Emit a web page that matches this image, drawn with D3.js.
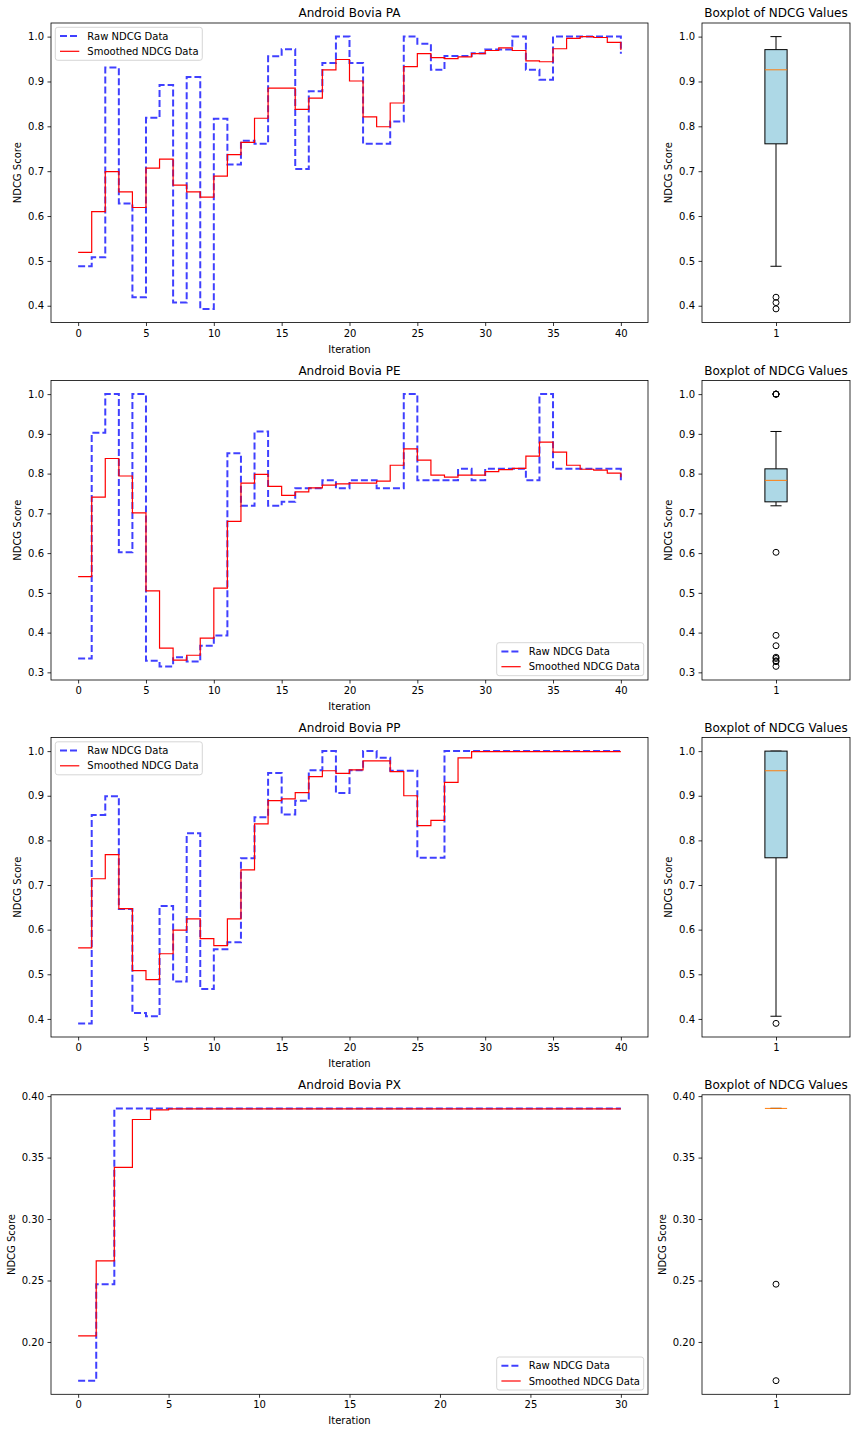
<!DOCTYPE html>
<html>
<head>
<meta charset="utf-8">
<script src="https://cdn.jsdelivr.net/npm/d3@7"></script>
<style>
  body { margin: 0; background: #fff; }
  svg { font-family: "DejaVu Sans", sans-serif; display: block; }
</style>
</head>
<body>
<svg id="chart"></svg>
<script>
"use strict";

/*
*  DATA
*/

var titles = ["Android Bovia PA", "Android Bovia PE", "Android Bovia PP", "Android Bovia PX"];

var rawPA = [0.488, 0.508, 0.931, 0.628, 0.419, 0.819, 0.892, 0.407, 0.910, 0.393,
  0.817, 0.715, 0.768, 0.761, 0.956, 0.972, 0.705, 0.878, 0.941, 1.000,
  0.941, 0.761, 0.761, 0.811, 1.000, 0.984, 0.926, 0.957, 0.957, 0.963,
  0.971, 0.971, 1.000, 0.926, 0.904, 1.000, 1.000, 1.000, 1.000, 1.000, 0.962];
var smoothPA = [0.519, 0.610, 0.699, 0.654, 0.619, 0.707, 0.727, 0.669, 0.654, 0.642,
  0.689, 0.737, 0.764, 0.818, 0.885, 0.885, 0.838, 0.863, 0.926, 0.949,
  0.901, 0.821, 0.799, 0.852, 0.933, 0.962, 0.953, 0.951, 0.955, 0.962,
  0.969, 0.975, 0.969, 0.946, 0.944, 0.973, 0.996, 1.000, 0.998, 0.987, 0.970];

var rawPE = [0.335, 0.903, 1.000, 0.602, 1.000, 0.329, 0.315, 0.338, 0.327, 0.367,
  0.393, 0.851, 0.719, 0.906, 0.719, 0.729, 0.763, 0.763, 0.783, 0.763,
  0.783, 0.783, 0.763, 0.763, 1.000, 0.783, 0.783, 0.783, 0.812, 0.783,
  0.812, 0.812, 0.812, 0.783, 1.000, 0.812, 0.812, 0.812, 0.812, 0.812, 0.783];
var smoothPE = [0.541, 0.741, 0.838, 0.794, 0.701, 0.505, 0.361, 0.331, 0.343, 0.386,
  0.512, 0.680, 0.776, 0.798, 0.768, 0.745, 0.754, 0.764, 0.771, 0.774,
  0.776, 0.776, 0.781, 0.821, 0.862, 0.834, 0.796, 0.791, 0.796, 0.796,
  0.805, 0.810, 0.813, 0.844, 0.879, 0.854, 0.821, 0.811, 0.809, 0.801, 0.791];

var rawPP = [0.390, 0.857, 0.899, 0.646, 0.413, 0.406, 0.653, 0.484, 0.816, 0.467,
  0.556, 0.572, 0.760, 0.852, 0.951, 0.858, 0.889, 0.957, 1.000, 0.906,
  0.957, 1.000, 0.985, 0.956, 0.956, 0.761, 0.761, 1.000, 1.000, 1.000,
  1.000, 1.000, 1.000, 1.000, 1.000, 1.000, 1.000, 1.000, 1.000, 1.000, 1.000];
var smoothPP = [0.559, 0.714, 0.768, 0.647, 0.508, 0.488, 0.546, 0.599, 0.624, 0.580,
  0.564, 0.624, 0.734, 0.837, 0.889, 0.893, 0.907, 0.943, 0.956, 0.950,
  0.958, 0.978, 0.978, 0.954, 0.900, 0.833, 0.845, 0.930, 0.985, 0.999,
  0.999, 0.999, 0.999, 0.999, 0.999, 0.999, 0.999, 0.999, 0.999, 0.999, 0.999];

var rawPX = [0.1685, 0.247, 0.390, 0.390, 0.390, 0.390, 0.390, 0.390, 0.390, 0.390,
  0.390, 0.390, 0.390, 0.390, 0.390, 0.390, 0.390, 0.390, 0.390, 0.390,
  0.390, 0.390, 0.390, 0.390, 0.390, 0.390, 0.390, 0.390, 0.390, 0.390, 0.390];
var smoothPX = [0.205, 0.266, 0.342, 0.381, 0.3888, 0.3897, 0.3897, 0.3897, 0.3897, 0.3897,
  0.3897, 0.3897, 0.3897, 0.3897, 0.3897, 0.3897, 0.3897, 0.3897, 0.3897, 0.3897,
  0.3897, 0.3897, 0.3897, 0.3897, 0.3897, 0.3897, 0.3897, 0.3897, 0.3897, 0.3897, 0.3897];

var xTicks40 = [0, 5, 10, 15, 20, 25, 30, 35, 40];
var xTicks30 = [0, 5, 10, 15, 20, 25, 30];
var yTicksA = [0.4, 0.5, 0.6, 0.7, 0.8, 0.9, 1.0];
var yTicksE = [0.3, 0.4, 0.5, 0.6, 0.7, 0.8, 0.9, 1.0];
var yTicksX = [0.20, 0.25, 0.30, 0.35, 0.40];

var legendLabels = ["Raw NDCG Data", "Smoothed NDCG Data"];
var legendCorner = ["upper left", "lower right", "upper left", "lower right"];

var panels = [
  { title: titles[0], raw: rawPA, smooth: smoothPA, xTicks: xTicks40, yTicks: yTicksA, fmt: ".1f" },
  { title: titles[1], raw: rawPE, smooth: smoothPE, xTicks: xTicks40, yTicks: yTicksE, fmt: ".1f" },
  { title: titles[2], raw: rawPP, smooth: smoothPP, xTicks: xTicks40, yTicks: yTicksA, fmt: ".1f" },
  { title: titles[3], raw: rawPX, smooth: smoothPX, xTicks: xTicks30, yTicks: yTicksX, fmt: ".2f" }
];

/*
*  LAYOUT
*/

var W = 856, H = 1432;
var leftX0 = 51, leftX1 = 648, boxX0 = 702, boxX1 = 850;
var rowTop = [23, 380.5, 737.5, 1094.8], rowH = 299.5;

var svg = d3.select('#chart').attr('width', W).attr('height', H);

panels.forEach(function (p, i) {
  drawPanel(p, i);
});

/*
*  HELPERS
*/

function styleAxis(g) {
  g.select('.domain').remove();
  g.selectAll('.tick line').attr('stroke', '#000').attr('stroke-width', 0.8);
  g.selectAll('.tick text').attr('fill', '#000').style('font-size', '10px')
    .style('font-family', '"DejaVu Sans", sans-serif');
}

// rotated y label, placed just left of the tick labels (axisG sits at axisX)
function yLabel(g, axisG, axisX, cy, text) {
  var bb = axisG.node().getBBox();
  g.append('text')
    .attr('transform', 'translate(' + (axisX + bb.x - 7) + ',' + cy + ') rotate(-90)')
    .attr('text-anchor', 'middle').style('font-size', '10px').text(text);
}

function drawPanel(p, i) {
  var top = rowTop[i], bottom = top + rowH;
  var n = p.raw.length - 1;
  var g = svg.append('g').attr('class', 'row');

  // matplotlib style 5% margins
  var x = d3.scaleLinear().domain([-n * 0.05, n * 1.05]).range([leftX0, leftX1]);
  var ext = d3.extent(p.raw.concat(p.smooth));
  var pad = (ext[1] - ext[0]) * 0.05;
  var y = d3.scaleLinear().domain([ext[0] - pad, ext[1] + pad]).range([bottom, top]);

  var xAxisG = g.append('g').attr('transform', 'translate(0,' + bottom + ')')
    .call(d3.axisBottom(x).tickValues(p.xTicks).tickFormat(d3.format('d'))
      .tickSize(3.5).tickPadding(3.5).tickSizeOuter(0));
  styleAxis(xAxisG);
  var yAxisG = g.append('g').attr('transform', 'translate(' + leftX0 + ',0)')
    .call(d3.axisLeft(y).tickValues(p.yTicks).tickFormat(d3.format(p.fmt))
      .tickSize(3.5).tickPadding(3.5).tickSizeOuter(0));
  styleAxis(yAxisG);

  var line = d3.line()
    .x(function (d, k) { return x(k); })
    .y(function (d) { return y(d); })
    .curve(d3.curveStepAfter);

  g.append('path').datum(p.raw).attr('d', line)
    .attr('fill', 'none').attr('stroke', 'blue').attr('stroke-opacity', 0.75)
    .attr('stroke-width', 2).attr('stroke-dasharray', '7,3');
  g.append('path').datum(p.smooth).attr('d', line)
    .attr('fill', 'none').attr('stroke', 'red').attr('stroke-width', 1.2);

  g.append('rect')
    .attr('x', leftX0).attr('y', top).attr('width', leftX1 - leftX0).attr('height', rowH)
    .attr('fill', 'none').attr('stroke', '#000').attr('stroke-width', 0.8);

  g.append('text').attr('x', (leftX0 + leftX1) / 2).attr('y', top - 6)
    .attr('text-anchor', 'middle').style('font-size', '12px').text(p.title);
  g.append('text').attr('x', (leftX0 + leftX1) / 2).attr('y', bottom + 30)
    .attr('text-anchor', 'middle').style('font-size', '10px').text('Iteration');
  yLabel(g, yAxisG, leftX0, (top + bottom) / 2, 'NDCG Score');

  drawLegend(g, legendCorner[i], top, bottom);
  drawBox(g, p, y, top, bottom);
}

function drawLegend(g, corner, top, bottom) {
  var lw = 147, lh = 33;
  var lx = corner === 'upper left' ? leftX0 + 4.3 : leftX1 - 4.3 - lw;
  var ly = corner === 'upper left' ? top + 4.3 : bottom - 4.3 - lh;
  var lg = g.append('g').attr('transform', 'translate(' + lx + ',' + ly + ')');
  lg.append('rect').attr('width', lw).attr('height', lh).attr('rx', 2.5)
    .attr('fill', '#fff').attr('fill-opacity', 0.8)
    .attr('stroke', '#ccc').attr('stroke-width', 0.8);
  legendLabels.forEach(function (lab, k) {
    var cy = 8.7 + k * 15.3;
    var ln = lg.append('line').attr('x1', 4.7).attr('x2', 24).attr('y1', cy).attr('y2', cy);
    if (k === 0) {
      ln.attr('stroke', 'blue').attr('stroke-opacity', 0.75).attr('stroke-width', 2)
        .attr('stroke-dasharray', '7,3');
    } else {
      ln.attr('stroke', 'red').attr('stroke-width', 1.2);
    }
    lg.append('text').attr('x', 32).attr('y', cy + 3.6).style('font-size', '10px').text(lab);
  });
}

function drawBox(g, p, y, top, bottom) {
  var bx = d3.scaleLinear().domain([0.5, 1.5]).range([boxX0, boxX1]);
  var vals = p.raw.slice().sort(d3.ascending);
  var q1 = d3.quantile(vals, 0.25), med = d3.quantile(vals, 0.5), q3 = d3.quantile(vals, 0.75);
  var iqr = q3 - q1;
  var inside = vals.filter(function (v) { return v >= q1 - 1.5 * iqr && v <= q3 + 1.5 * iqr; });
  var wLo = d3.min(inside), wHi = d3.max(inside);
  var fliers = vals.filter(function (v) { return v < wLo || v > wHi; });

  var bg = g.append('g').attr('class', 'box');
  var c = bx(1), half = bx(1.075) - bx(1), cap = half / 2;

  bg.append('line').attr('x1', c).attr('x2', c).attr('y1', y(q1)).attr('y2', y(wLo))
    .attr('stroke', '#000').attr('stroke-width', 1);
  bg.append('line').attr('x1', c).attr('x2', c).attr('y1', y(q3)).attr('y2', y(wHi))
    .attr('stroke', '#000').attr('stroke-width', 1);
  [wLo, wHi].forEach(function (v) {
    bg.append('line').attr('x1', c - cap).attr('x2', c + cap).attr('y1', y(v)).attr('y2', y(v))
      .attr('stroke', '#000').attr('stroke-width', 1);
  });
  bg.append('rect').attr('x', c - half).attr('width', half * 2)
    .attr('y', y(q3)).attr('height', y(q1) - y(q3))
    .attr('fill', 'lightblue').attr('stroke', '#000').attr('stroke-width', 1);
  bg.append('line').attr('x1', c - half).attr('x2', c + half).attr('y1', y(med)).attr('y2', y(med))
    .attr('stroke', '#ff7f0e').attr('stroke-width', 1);
  bg.selectAll('circle.flier').data(fliers).enter().append('circle')
    .attr('class', 'flier').attr('cx', c).attr('cy', function (d) { return y(d); }).attr('r', 3)
    .attr('fill', 'none').attr('stroke', '#000').attr('stroke-width', 1);

  var bxAxisG = bg.append('g').attr('transform', 'translate(0,' + bottom + ')')
    .call(d3.axisBottom(bx).tickValues([1]).tickFormat(d3.format('d'))
      .tickSize(3.5).tickPadding(3.5).tickSizeOuter(0));
  styleAxis(bxAxisG);
  var byAxisG = bg.append('g').attr('transform', 'translate(' + boxX0 + ',0)')
    .call(d3.axisLeft(y).tickValues(p.yTicks).tickFormat(d3.format(p.fmt))
      .tickSize(3.5).tickPadding(3.5).tickSizeOuter(0));
  styleAxis(byAxisG);

  bg.append('rect')
    .attr('x', boxX0).attr('y', top).attr('width', boxX1 - boxX0).attr('height', rowH)
    .attr('fill', 'none').attr('stroke', '#000').attr('stroke-width', 0.8);
  bg.append('text').attr('x', (boxX0 + boxX1) / 2).attr('y', top - 6)
    .attr('text-anchor', 'middle').style('font-size', '12px').text('Boxplot of NDCG Values');
  yLabel(bg, byAxisG, boxX0, (top + bottom) / 2, 'NDCG Score');
}
</script>
</body>
</html>
